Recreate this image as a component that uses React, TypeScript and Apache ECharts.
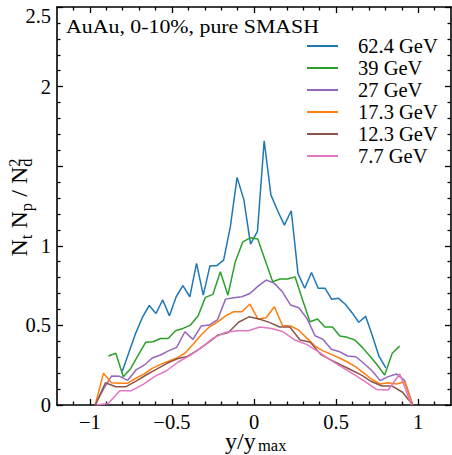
import React, { useEffect, useRef } from 'react';
import * as echarts from 'echarts';

const FONT = 'Liberation Serif';

const energies = ['62.4 GeV', '39 GeV', '27 GeV', '17.3 GeV', '12.3 GeV', '7.7 GeV'];
const colors = ['#1f77b4', '#2ca02c', '#9467bd', '#ff7f0e', '#8c564b', '#e377c2'];

// 62.4 GeV
const x624 = [-0.803, -0.762, -0.721, -0.680, -0.638, -0.597, -0.556, -0.515, -0.474, -0.433, -0.391, -0.350, -0.309, -0.268, -0.227, -0.185, -0.144, -0.103, -0.062, -0.021, 0.021, 0.062, 0.103, 0.144, 0.185, 0.227, 0.268, 0.309, 0.350, 0.391, 0.433, 0.474, 0.515, 0.556, 0.597, 0.638, 0.680, 0.721, 0.762, 0.803];
const y624 = [0.21, 0.33, 0.45, 0.55, 0.625, 0.575, 0.66, 0.56, 0.68, 0.75, 0.68, 0.89, 0.69, 0.875, 0.875, 0.91, 1.12, 1.43, 1.29, 1.01, 1.09, 1.66, 1.32, 1.22, 1.13, 1.22, 0.825, 0.733, 0.832, 0.733, 0.733, 0.664, 0.67, 0.633, 0.58, 0.52, 0.557, 0.435, 0.305, 0.233];
// 39 GeV
const x39 = [-0.887, -0.842, -0.796, -0.751, -0.705, -0.660, -0.614, -0.569, -0.523, -0.478, -0.432, -0.387, -0.341, -0.296, -0.250, -0.205, -0.159, -0.114, -0.068, -0.023, 0.023, 0.068, 0.114, 0.159, 0.205, 0.250, 0.296, 0.341, 0.387, 0.432, 0.478, 0.523, 0.569, 0.614, 0.660, 0.705, 0.751, 0.796, 0.842, 0.887];
const y39 = [0.308, 0.325, 0.178, 0.23, 0.314, 0.394, 0.397, 0.418, 0.418, 0.466, 0.481, 0.502, 0.559, 0.676, 0.695, 0.837, 0.69, 0.9, 1.025, 1.05, 1.042, 0.91, 0.774, 0.791, 0.791, 0.805, 0.66, 0.523, 0.54, 0.49, 0.49, 0.433, 0.425, 0.408, 0.362, 0.308, 0.251, 0.188, 0.325, 0.37];
// 27 GeV and 17.3 GeV share bins
const x27 = [-0.967, -0.917, -0.868, -0.818, -0.769, -0.719, -0.669, -0.620, -0.570, -0.521, -0.471, -0.421, -0.372, -0.322, -0.273, -0.223, -0.173, -0.124, -0.074, -0.025, 0.025, 0.074, 0.124, 0.173, 0.223, 0.273, 0.322, 0.372, 0.421, 0.471, 0.521, 0.570, 0.620, 0.669, 0.719, 0.769, 0.818, 0.868, 0.917, 0.967];
const y27 = [0, 0.1, 0.182, 0.18, 0.155, 0.22, 0.25, 0.295, 0.314, 0.34, 0.362, 0.46, 0.412, 0.496, 0.502, 0.534, 0.665, 0.674, 0.68, 0.7, 0.747, 0.785, 0.764, 0.711, 0.628, 0.611, 0.544, 0.435, 0.412, 0.35, 0.335, 0.308, 0.303, 0.262, 0.215, 0.153, 0.178, 0.195, 0.155, 0];
const x173 = [-0.967, -0.917, -0.868, -0.818, -0.769, -0.719, -0.669, -0.620, -0.570, -0.521, -0.471, -0.421, -0.372, -0.322, -0.273, -0.223, -0.173, -0.124, -0.074, -0.025, 0.025, 0.074, 0.124, 0.173, 0.223, 0.273, 0.322, 0.372, 0.421, 0.471, 0.521, 0.570, 0.620, 0.669, 0.719, 0.769, 0.818, 0.868, 0.917, 0.967];
const y173 = [0, 0.2, 0.14, 0.137, 0.137, 0.168, 0.195, 0.23, 0.255, 0.275, 0.295, 0.325, 0.38, 0.44, 0.49, 0.52, 0.56, 0.586, 0.586, 0.634, 0.54, 0.548, 0.617, 0.5, 0.496, 0.47, 0.42, 0.37, 0.34, 0.318, 0.295, 0.27, 0.24, 0.2, 0.16, 0.132, 0.14, 0.132, 0.146, 0];
// 12.3 GeV
const x123 = [-0.967, -0.905, -0.842, -0.780, -0.718, -0.655, -0.593, -0.530, -0.468, -0.406, -0.343, -0.281, -0.218, -0.156, -0.094, -0.031, 0.031, 0.094, 0.156, 0.218, 0.281, 0.343, 0.406, 0.468, 0.530, 0.593, 0.655, 0.718, 0.780, 0.842, 0.905, 0.967];
const y123 = [0, 0.14, 0.115, 0.115, 0.15, 0.19, 0.225, 0.262, 0.29, 0.305, 0.345, 0.39, 0.44, 0.455, 0.52, 0.554, 0.54, 0.519, 0.49, 0.49, 0.408, 0.394, 0.318, 0.283, 0.251, 0.22, 0.188, 0.146, 0.119, 0.119, 0.08, 0];
// 7.7 GeV
const x77 = [-0.959, -0.888, -0.817, -0.746, -0.675, -0.604, -0.533, -0.462, -0.391, -0.320, -0.249, -0.178, -0.107, -0.036, 0.036, 0.107, 0.178, 0.249, 0.320, 0.391, 0.462, 0.533, 0.604, 0.675, 0.746, 0.817, 0.888, 0.959];
const y77 = [0, 0.01, 0.09, 0.09, 0.13, 0.18, 0.215, 0.27, 0.31, 0.36, 0.42, 0.455, 0.466, 0.466, 0.49, 0.481, 0.46, 0.408, 0.381, 0.335, 0.285, 0.24, 0.195, 0.148, 0.098, 0.094, 0.195, 0];

const seriesX = [x624, x39, x27, x173, x123, x77];
const seriesY = [y624, y39, y27, y173, y123, y77];

const xMajor = [-1, -0.5, 0, 0.5, 1];
const xMinor = [-1.1, -0.9, -0.8, -0.7, -0.6, -0.4, -0.3, -0.2, -0.1, 0.1, 0.2, 0.3, 0.4, 0.6, 0.7, 0.8, 0.9, 1.1];
const yMajor = [0, 0.5, 1, 1.5, 2, 2.5];
const yLabels = [0, 0.5, 1, 2, 2.5];
const yMinor = [0.1, 0.2, 0.3, 0.4, 0.6, 0.7, 0.8, 0.9, 1.1, 1.2, 1.3, 1.4, 1.6, 1.7, 1.8, 1.9, 2.1, 2.2, 2.3, 2.4];

const fmt = (v: number) => (v < 0 ? '\u2212' + String(Math.abs(v)) : String(v));

function axis(kind: 'x' | 'y', position: string, ticks: number[], len: number, line: boolean, labels: number[] | null) {
  const base: any = {
    type: 'value',
    position,
    min: kind === 'x' ? -1.2 : 0,
    max: kind === 'x' ? 1.2 : 2.5,
    splitLine: { show: false },
    axisLine: { show: line, onZero: false, lineStyle: { color: '#000', width: 1.6 } },
    axisTick: { show: true, inside: true, length: len, customValues: ticks, lineStyle: { color: '#000', width: 1.3 } },
    axisLabel: labels
      ? {
          show: true,
          customValues: labels,
          formatter: fmt,
          color: '#000',
          fontSize: 20.5,
          lineHeight: 18,
          fontFamily: FONT,
          margin: kind === 'x' ? 8 : 6,
          verticalAlignMaxLabel: kind === 'y' ? 'top' : undefined,
        }
      : { show: false },
  };
  return base;
}

export default function App() {
  const ref = useRef<HTMLDivElement>(null);
  useEffect(() => {
    if (!ref.current) return;
    const chart = echarts.init(ref.current, null, { renderer: 'svg' });
    const mainSize = 24;
    const subSize = 16.5;
    const t = (text: string, x: number, y: number, size: number, extra: any = {}) => ({
      type: 'text',
      x,
      y,
      ...extra,
      style: { text, fill: '#000', fontSize: size, fontFamily: FONT, align: 'left', verticalAlign: 'middle' },
    });
    const option: any = {
      animation: false,
      backgroundColor: '#fff',
      textStyle: { fontFamily: FONT },
      grid: { left: 57, right: 1, top: 7, bottom: 50, containLabel: false },
      xAxis: [
        axis('x', 'bottom', xMajor, 6, true, xMajor),
        axis('x', 'bottom', xMinor, 3.5, false, null),
        axis('x', 'top', xMajor, 6, true, null),
        axis('x', 'top', xMinor, 3.5, false, null),
      ],
      yAxis: [
        axis('y', 'left', yMajor, 6, true, yLabels),
        axis('y', 'left', yMinor, 3.5, false, null),
        axis('y', 'right', yMajor, 6, true, null),
        axis('y', 'right', yMinor, 3.5, false, null),
      ],
      legend: {
        orient: 'vertical',
        left: 302,
        top: 30,
        itemWidth: 31,
        itemHeight: 2,
        itemGap: 0,
        icon: 'rect',
        selectedMode: false,
        textStyle: { fontSize: 20.5, fontFamily: FONT, color: '#000', lineHeight: 22, padding: [0, 0, 0, 15] },
        data: energies,
      },
      series: energies.map((name, i) => ({
        name,
        type: 'line',
        xAxisIndex: 0,
        yAxisIndex: 0,
        data: seriesX[i].map((x, j) => [x, seriesY[i][j]]),
        symbol: 'none',
        showSymbol: false,
        clip: true,
        color: colors[i],
        lineStyle: { width: 1.5, color: colors[i] },
        itemStyle: { color: colors[i] },
      })),
      graphic: [
        t('AuAu, 0-10%, pure SMASH', 66, 27, 19, { scaleX: 1.15 }),
        {
          type: 'group',
          x: 0,
          y: 0,
          children: [t('y/y', 225, 441, mainSize), t('max', 258, 445, subSize)],
        },
        {
          type: 'group',
          x: 0,
          y: 256.5,
          rotation: Math.PI / 2,
          children: [
            t('N', 0, 18.5, mainSize),
            t('t', 17.3, 26.2, subSize),
            t('N', 28, 18.5, mainSize),
            t('p', 45.3, 26.2, subSize),
            t('/', 59.8, 18.5, mainSize),
            t('N', 72.5, 18.5, mainSize),
            t('d', 89.8, 26.2, subSize),
            t('2', 89.8, 14.2, subSize),
          ],
        },
      ],
    };
    chart.setOption(option);
    return () => chart.dispose();
  }, []);
  return <div ref={ref} style={{ position: 'absolute', left: 0, top: 0, width: 452, height: 455 }} />;
}
